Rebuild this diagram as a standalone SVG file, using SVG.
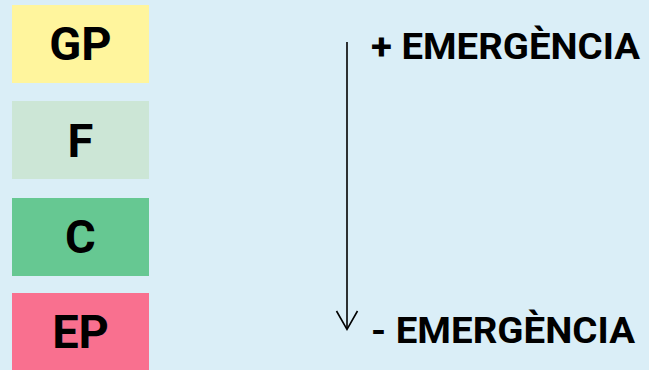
<svg xmlns="http://www.w3.org/2000/svg" width="649" height="370" viewBox="0 0 649 370">
<style>
.lbl{font-family:Roboto,"Liberation Sans",sans-serif;font-weight:700;font-size:47px;fill:#000;text-anchor:middle}
.side{font-family:Roboto,"Liberation Sans",sans-serif;font-weight:700;font-size:36px;fill:#000}
</style>
<rect width="649" height="370" fill="#daeef7"/>
<g id="GP"><rect x="12" y="5" width="137" height="78" fill="#fff59d"/><text class="lbl" x="80.5" y="60">GP</text></g>
<g id="F"><rect x="12" y="101" width="137" height="78" fill="#cce6d6"/><text class="lbl" x="80.5" y="157">F</text></g>
<g id="C"><rect x="12" y="198" width="137" height="78" fill="#66c892"/><text class="lbl" x="80.5" y="253">C</text></g>
<g id="EP"><rect x="12" y="293" width="137" height="77" fill="#f9708f"/><text class="lbl" x="80.5" y="348">EP</text></g>
<g id="connectors">
<line x1="347" y1="42" x2="347" y2="329" stroke="#000" stroke-width="1.6"/>
<polyline points="336.5,311 347,329.5 357.5,311" fill="none" stroke="#000" stroke-width="1.6"/>
</g>
<g id="labels">
<text class="side" x="371" y="59" textLength="269" lengthAdjust="spacingAndGlyphs">+ EMERGÈNCIA</text>
<text class="side" x="371" y="343" textLength="264" lengthAdjust="spacingAndGlyphs">- EMERGÈNCIA</text>
</g>
</svg>
